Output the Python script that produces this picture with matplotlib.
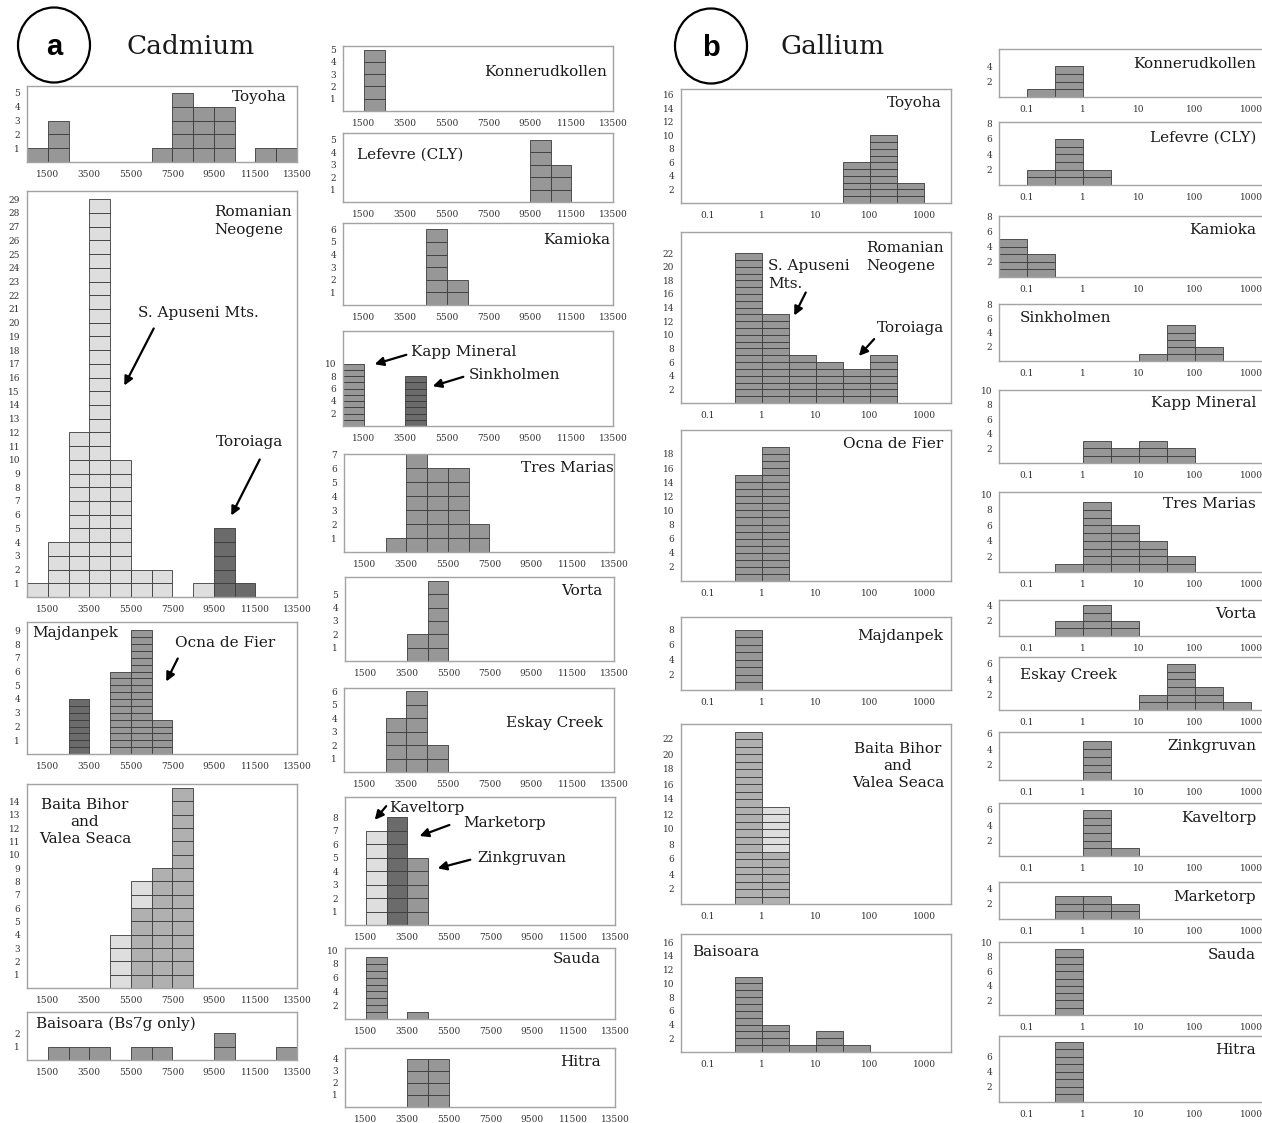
import matplotlib
matplotlib.use("Agg")
import matplotlib.pyplot as plt
import numpy as np
from matplotlib.patches import Ellipse, FancyArrowPatch

# ---- data: counts per bin ----
# Cd bins: 1000 ppm wide, starting at 500 (13 bins up to 13500)
cd_toyoha = [1, 3, 0, 0, 0, 0, 1, 5, 4, 4, 0, 1, 1]
cd_romanian = [1, 4, 12, 29, 10, 2, 2, 0, 1, 0, 0, 0, 0]
cd_toroiaga = [0, 0, 0, 0, 0, 0, 0, 0, 0, 5, 1, 0, 0]
cd_majdanpek = [0, 0, 4, 0, 0, 0, 0, 0, 0, 0, 0, 0, 0]
cd_ocna = [0, 0, 0, 0, 6, 9, 2.5, 0, 0, 0, 0, 0, 0]
cd_baita = [0, 0, 0, 0, 0, 6, 9, 15, 0, 0, 0, 0, 0]
cd_baita_light = [0, 0, 0, 0, 4, 2, 0, 0, 0, 0, 0, 0, 0]
cd_baisoara = [0, 1, 1, 1, 0, 1, 1, 0, 0, 2, 0, 0, 1]
cd_konnerud = [0, 5, 0, 0, 0, 0, 0, 0, 0, 0, 0, 0, 0]
cd_lefevre = [0, 0, 0, 0, 0, 0, 0, 0, 0, 5, 3, 0, 0]
cd_kamioka = [0, 0, 0, 0, 6, 2, 0, 0, 0, 0, 0, 0, 0]
cd_kapp = [10, 0, 0, 0, 0, 0, 0, 0, 0, 0, 0, 0, 0]
cd_sinkholmen = [0, 0, 0, 8, 0, 0, 0, 0, 0, 0, 0, 0, 0]
cd_tres = [0, 0, 1, 7, 6, 6, 2, 0, 0, 0, 0, 0, 0]
cd_vorta = [0, 0, 0, 2, 6, 0, 0, 0, 0, 0, 0, 0, 0]
cd_eskay = [0, 0, 4, 6, 2, 0, 0, 0, 0, 0, 0, 0, 0]
cd_kaveltorp = [0, 7, 0, 0, 0, 0, 0, 0, 0, 0, 0, 0, 0]
cd_marketorp = [0, 0, 8, 0, 0, 0, 0, 0, 0, 0, 0, 0, 0]
cd_zinkgruvan = [0, 0, 0, 5, 0, 0, 0, 0, 0, 0, 0, 0, 0]
cd_sauda = [0, 9, 0, 1, 0, 0, 0, 0, 0, 0, 0, 0, 0]
cd_hitra = [0, 0, 0, 4, 4, 0, 0, 0, 0, 0, 0, 0, 0]

# Ga bins: half-decade, from 10^-1.5 to 10^3.5 (10 bins)
ga_toyoha = [0, 0, 0, 0, 0, 0, 6, 10, 3, 0]
ga_romanian = [0, 0, 22, 13, 7, 6, 5, 7, 0, 0]
ga_ocna = [0, 0, 15, 19, 0, 0, 0, 0, 0, 0]
ga_majdanpek = [0, 0, 8, 0, 0, 0, 0, 0, 0, 0]
ga_baita = [0, 0, 23, 7, 0, 0, 0, 0, 0, 0]
ga_baita_light = [0, 0, 0, 6, 0, 0, 0, 0, 0, 0]
ga_baisoara = [0, 0, 11, 4, 1, 3, 1, 0, 0, 0]
ga_konnerud = [0, 1, 4, 0, 0, 0, 0, 0, 0, 0]
ga_lefevre = [0, 2, 6, 2, 0, 0, 0, 0, 0, 0]
ga_kamioka = [5, 3, 0, 0, 0, 0, 0, 0, 0, 0]
ga_sinkholmen = [0, 0, 0, 0, 0, 1, 5, 2, 0, 0]
ga_kapp = [0, 0, 0, 3, 2, 3, 2, 0, 0, 0]
ga_tres = [0, 0, 1, 9, 6, 4, 2, 0, 0, 0]
ga_vorta = [0, 0, 2, 4, 2, 0, 0, 0, 0, 0]
ga_eskay = [0, 0, 0, 0, 0, 2, 6, 3, 1, 0]
ga_zinkgruvan = [0, 0, 0, 5, 0, 0, 0, 0, 0, 0]
ga_kaveltorp = [0, 0, 0, 6, 1, 0, 0, 0, 0, 0]
ga_marketorp = [0, 0, 3, 3, 2, 0, 0, 0, 0, 0]
ga_sauda = [0, 0, 9, 0, 0, 0, 0, 0, 0, 0]
ga_hitra = [0, 0, 8, 0, 0, 0, 0, 0, 0, 0]

cd_ticks = [1500, 3500, 5500, 7500, 9500, 11500, 13500]
ga_ticks = [0.1, 1, 10, 100, 1000]
ga_ticklabels = ['0.1', '1', '10', '100', '1000']

# ---- style ----
MID = '#979797'
DARK = '#6b6b6b'
LIGHT = '#dedede'
BAITA = '#b0b0b0'
EDGE = '#3a3a3a'

plt.rcParams['font.family'] = 'DejaVu Serif'

W, H = 1262, 1123
fig = plt.figure(figsize=(W / 100, H / 100), dpi=100)

cd_left = np.arange(500, 13500, 1000)
cd_width = np.full(13, 1000)
ga_edges = 10 ** np.arange(-1.5, 3.51, 0.5)
ga_left = ga_edges[:-1]
ga_width = np.diff(ga_edges)


def new_axes(x0, y0, x1, y1, ytop, yticks):
    ax = fig.add_axes([x0 / W, 1 - y1 / H, (x1 - x0) / W, (y1 - y0) / H])
    ax.set_ylim(0, ytop)
    ax.set_yticks(list(yticks))
    for s in ax.spines.values():
        s.set_color('#a3a3a3')
        s.set_linewidth(1.0)
    ax.tick_params(length=0, labelsize=6.5, labelcolor='#333333', pad=5)
    ax.tick_params(axis='x', pad=6)
    return ax


def cd_axes(x0, y0, x1, y1, ytop, yticks):
    ax = new_axes(x0, y0, x1, y1, ytop, yticks)
    ax.set_xlim(500, 13500)
    ax.set_xticks(cd_ticks)
    return ax


def ga_axes(x0, y0, x1, y1, ytop, yticks):
    ax = new_axes(x0, y0, x1, y1, ytop, yticks)
    ax.set_xscale('log')
    ax.set_xlim(10 ** -1.5, 10 ** 3.5)
    ax.set_xticks(ga_ticks)
    ax.set_xticklabels(ga_ticklabels)
    ax.xaxis.set_minor_locator(matplotlib.ticker.NullLocator())
    return ax


def stack(ax, lefts, widths, counts, color, unit=1.0, base=None):
    # one little box per counted unit
    xs, ws, hs, bs = [], [], [], []
    for i, c in enumerate(counts):
        b0 = base[i] if base is not None else 0
        done = 0.0
        while done < c - 1e-9:
            h = min(unit, c - done)
            xs.append(lefts[i]); ws.append(widths[i]); hs.append(h); bs.append(b0 + done)
            done += h
    ax.bar(xs, hs, width=ws, bottom=bs, align='edge', color=color,
           edgecolor=EDGE, linewidth=0.6)


def txt(x, y, s, ha='left', size=11, **kw):
    fig.text(x / W, 1 - y / H, s, ha=ha, va='center', fontsize=size, color='#1a1a1a', **kw)


def arrow(x0, y0, x1, y1):
    fig.add_artist(FancyArrowPatch((x0 / W, 1 - y0 / H), (x1 / W, 1 - y1 / H),
                                   transform=fig.transFigure, arrowstyle='-|>',
                                   mutation_scale=13, lw=1.6, color='black'))


# ---- headers ----
for cx, cy, letter in [(54, 45, 'a'), (711, 46, 'b')]:
    fig.add_artist(Ellipse((cx / W, 1 - cy / H), 72 / W, 75 / H, transform=fig.transFigure,
                           fill=False, lw=1.6, color='black'))
    fig.text(cx / W, 1 - (cy + 2) / H, letter, ha='center', va='center', fontsize=21,
             fontweight='bold', family='Liberation Sans')
txt(191, 47, 'Cadmium', ha='center', size=19)
txt(833, 47, 'Gallium', ha='center', size=19)

# ---- Cadmium, left column ----
ax = cd_axes(27, 86, 297, 162, 5.5, range(1, 6))
stack(ax, cd_left, cd_width, cd_toyoha, MID)
txt(287, 97, 'Toyoha', ha='right')

ax = cd_axes(27, 191, 297, 597, 29.6, range(1, 30))
stack(ax, cd_left, cd_width, cd_romanian, LIGHT)
stack(ax, cd_left, cd_width, cd_toroiaga, DARK)
txt(214, 221, 'Romanian\nNeogene', linespacing=1.3)
txt(138, 313, 'S. Apuseni Mts.')
arrow(155, 326, 123, 388)
txt(216, 442, 'Toroiaga')
arrow(261, 457, 230, 518)

ax = cd_axes(27, 622, 297, 754, 9.6, range(1, 10))
stack(ax, cd_left, cd_width, cd_majdanpek, DARK, unit=0.5)
stack(ax, cd_left, cd_width, cd_ocna, MID, unit=0.5)
txt(32, 633, 'Majdanpek')
txt(175, 643, 'Ocna de Fier')
arrow(179, 656, 165, 684)

ax = cd_axes(27, 784, 297, 988, 15.3, range(1, 15))
stack(ax, cd_left, cd_width, cd_baita, BAITA)
stack(ax, cd_left, cd_width, cd_baita_light, LIGHT, base=cd_baita)
txt(85, 822, 'Baita Bihor\nand\nValea Seaca', ha='center', linespacing=1.3)

ax = cd_axes(27, 1012, 297, 1060, 3.6, [1, 2])
stack(ax, cd_left, cd_width, cd_baisoara, MID)
txt(36, 1024, 'Baisoara (Bs7g only)')

# ---- Cadmium, right column ----
ax = cd_axes(343, 46, 613, 111, 5.3, range(1, 6))
stack(ax, cd_left, cd_width, cd_konnerud, MID)
txt(607, 72, 'Konnerudkollen', ha='right')

ax = cd_axes(343, 133, 613, 202, 5.55, range(1, 6))
stack(ax, cd_left, cd_width, cd_lefevre, MID)
txt(357, 155, 'Lefevre (CLY)')

ax = cd_axes(343, 223, 613, 305, 6.5, range(1, 7))
stack(ax, cd_left, cd_width, cd_kamioka, MID)
txt(610, 240, 'Kamioka', ha='right')

ax = cd_axes(343, 331, 613, 426, 15.2, range(2, 11, 2))
stack(ax, cd_left, cd_width, cd_kapp, MID)
stack(ax, cd_left, cd_width, cd_sinkholmen, DARK)
txt(411, 352, 'Kapp Mineral')
arrow(409, 354, 372, 365)
txt(469, 375, 'Sinkholmen')
arrow(466, 376, 430, 387)

ax = cd_axes(344, 454, 614, 552, 7.03, range(1, 8))
stack(ax, cd_left, cd_width, cd_tres, MID)
txt(614, 468, 'Tres Marias', ha='right')

ax = cd_axes(345, 577, 614, 661, 6.3, range(1, 6))
stack(ax, cd_left, cd_width, cd_vorta, MID)
txt(602, 591, 'Vorta', ha='right')

ax = cd_axes(344, 688, 614, 772, 6.25, range(1, 7))
stack(ax, cd_left, cd_width, cd_eskay, MID)
txt(603, 723, 'Eskay Creek', ha='right')

ax = cd_axes(345, 797, 615, 925, 9.5, range(1, 9))
stack(ax, cd_left, cd_width, cd_kaveltorp, LIGHT)
stack(ax, cd_left, cd_width, cd_marketorp, DARK)
stack(ax, cd_left, cd_width, cd_zinkgruvan, MID)
txt(389, 808, 'Kaveltorp')
arrow(388, 804, 373, 822)
txt(463, 823, 'Marketorp')
arrow(452, 824, 417, 837)
txt(477, 858, 'Zinkgruvan')
arrow(473, 859, 435, 869)

ax = cd_axes(345, 948, 615, 1019, 10.3, range(2, 11, 2))
stack(ax, cd_left, cd_width, cd_sauda, MID)
txt(601, 959, 'Sauda', ha='right')

ax = cd_axes(345, 1048, 615, 1107, 4.9, range(1, 5))
stack(ax, cd_left, cd_width, cd_hitra, MID)
txt(601, 1062, 'Hitra', ha='right')

# ---- Gallium, left column ----
ax = ga_axes(681, 89, 951, 203, 16.8, range(2, 17, 2))
stack(ax, ga_left, ga_width, ga_toyoha, MID)
txt(942, 103, 'Toyoha', ha='right')

ax = ga_axes(681, 232, 951, 403, 25.1, range(2, 23, 2))
stack(ax, ga_left, ga_width, ga_romanian, MID)
txt(866, 257, 'Romanian\nNeogene', linespacing=1.3)
txt(768, 275, 'S. Apuseni\nMts.', linespacing=1.3)
arrow(807, 290, 793, 318)
txt(877, 328, 'Toroiaga')
arrow(876, 337, 857, 358)

ax = ga_axes(681, 430, 951, 581, 21.4, range(2, 19, 2))
stack(ax, ga_left, ga_width, ga_ocna, MID)
txt(943, 444, 'Ocna de Fier', ha='right')

ax = ga_axes(681, 617, 951, 690, 9.7, range(2, 9, 2))
stack(ax, ga_left, ga_width, ga_majdanpek, MID)
txt(943, 636, 'Majdanpek', ha='right')

ax = ga_axes(681, 724, 951, 904, 24.0, range(2, 23, 2))
stack(ax, ga_left, ga_width, ga_baita, BAITA)
stack(ax, ga_left, ga_width, ga_baita_light, LIGHT, base=ga_baita)
txt(898, 766, 'Baita Bihor\nand\nValea Seaca', ha='center', linespacing=1.3)

ax = ga_axes(681, 934, 951, 1052, 17.2, range(2, 17, 2))
stack(ax, ga_left, ga_width, ga_baisoara, MID)
txt(692, 952, 'Baisoara')

# ---- Gallium, right column (runs past the right edge) ----
gx0, gx1 = 999, 1279
ga_right = [
    (49, 97, 6.2, [2, 4], ga_konnerud, 'Konnerudkollen', 64, 'right'),
    (122, 185, 8.2, [2, 4, 6, 8], ga_lefevre, 'Lefevre (CLY)', 138, 'right'),
    (216, 277, 8.1, [2, 4, 6, 8], ga_kamioka, 'Kamioka', 230, 'right'),
    (304, 361, 7.4, [2, 4, 6, 8], ga_sinkholmen, 'Sinkholmen', 318, 'left'),
    (390, 463, 9.8, [2, 4, 6, 8, 10], ga_kapp, 'Kapp Mineral', 403, 'right'),
    (492, 572, 10.3, [2, 4, 6, 8, 10], ga_tres, 'Tres Marias', 504, 'right'),
    (600, 636, 4.7, [2, 4], ga_vorta, 'Vorta', 614, 'right'),
    (657, 710, 6.9, [2, 4, 6], ga_eskay, 'Eskay Creek', 675, 'left'),
    (732, 780, 6.2, [2, 4, 6], ga_zinkgruvan, 'Zinkgruvan', 746, 'right'),
    (803, 856, 6.9, [2, 4, 6], ga_kaveltorp, 'Kaveltorp', 818, 'right'),
    (882, 919, 4.9, [2, 4], ga_marketorp, 'Marketorp', 897, 'right'),
    (942, 1015, 9.65, [2, 4, 6, 8, 10], ga_sauda, 'Sauda', 955, 'right'),
    (1036, 1102, 8.75, [2, 4, 6], ga_hitra, 'Hitra', 1050, 'right'),
]
for y0, y1, top, yt, counts, name, ty, side in ga_right:
    ax = ga_axes(gx0, y0, gx1, y1, top, yt)
    stack(ax, ga_left, ga_width, counts, MID)
    if side == 'right':
        txt(1256, ty, name, ha='right')
    else:
        txt(1020, ty, name)

fig.savefig('out.png', dpi=100, facecolor='white')
